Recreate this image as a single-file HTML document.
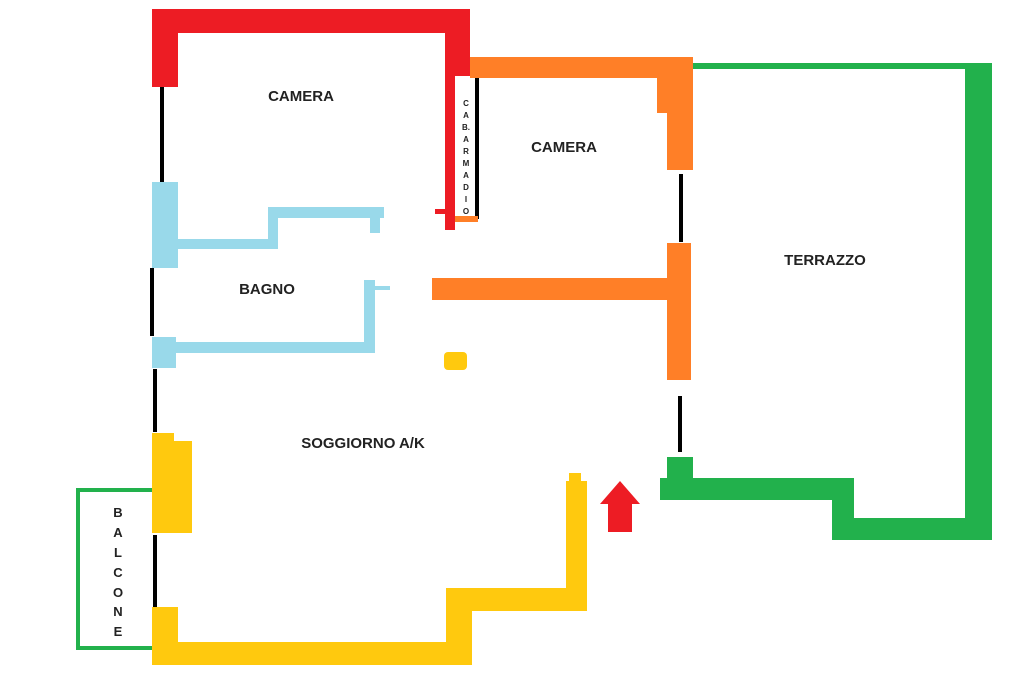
<!DOCTYPE html>
<html><head><style>
html,body{margin:0;padding:0;background:#fff;}
svg{display:block}
text{font-family:"Liberation Sans",sans-serif;font-weight:bold;fill:#222;}
</style></head><body>
<svg width="1024" height="683" viewBox="0 0 1024 683" xmlns="http://www.w3.org/2000/svg">
<!-- red -->
<g fill="#ed1c24">
<rect x="152" y="9" width="318" height="24"/>
<rect x="152" y="9" width="26" height="78"/>
<rect x="445" y="9" width="25" height="67"/>
<rect x="445" y="70" width="10" height="160"/>
<rect x="435" y="209" width="20" height="5"/>
</g>
<!-- cabina -->
<rect x="475" y="78" width="4" height="141" fill="#000"/>
<rect x="455" y="216" width="23" height="6" fill="#ff7f27"/>
<g font-size="8" text-anchor="middle" style="font-weight:normal">
<text x="466" y="106">C</text><text x="466" y="118">A</text><text x="466" y="130">B.</text>
<text x="466" y="142">A</text><text x="466" y="154">R</text><text x="466" y="166">M</text>
<text x="466" y="178">A</text><text x="466" y="190">D</text><text x="466" y="202">I</text><text x="466" y="214">O</text>
</g>
<!-- orange -->
<g fill="#ff7f27">
<rect x="470" y="57" width="223" height="21"/>
<rect x="657" y="57" width="36" height="56"/>
<rect x="667" y="57" width="26" height="113"/>
<rect x="667" y="243" width="24" height="137"/>
<rect x="432" y="278" width="250" height="22"/>
</g>
<!-- black windows -->
<g fill="#000">
<rect x="160" y="87" width="4" height="95"/>
<rect x="150" y="268" width="4" height="68"/>
<rect x="153" y="369" width="4" height="63"/>
<rect x="153" y="535" width="4" height="73"/>
<rect x="679" y="174" width="4" height="68"/>
<rect x="678" y="396" width="4" height="56"/>
</g>
<!-- light blue -->
<g fill="#99d9ea">
<rect x="152" y="182" width="26" height="86"/>
<rect x="178" y="239" width="99" height="10"/>
<rect x="268" y="207" width="10" height="42"/>
<rect x="268" y="207" width="116" height="11"/>
<rect x="370" y="218" width="10" height="15"/>
<rect x="152" y="337" width="24" height="31"/>
<rect x="176" y="342" width="199" height="11"/>
<rect x="364" y="280" width="11" height="73"/>
<rect x="375" y="286" width="15" height="4"/>
</g>
<!-- green -->
<g fill="#22b14c">
<rect x="693" y="63" width="299" height="6"/>
<rect x="965" y="63" width="27" height="477"/>
<rect x="832" y="518" width="160" height="22"/>
<rect x="832" y="478" width="22" height="62"/>
<rect x="660" y="478" width="194" height="22"/>
<rect x="667" y="457" width="26" height="25"/>
</g>
<path d="M152 490 H78 V648 H152" fill="none" stroke="#22b14c" stroke-width="4"/>
<!-- yellow -->
<g fill="#ffc90e">
<rect x="444" y="352" width="23" height="18" rx="4"/>
<rect x="152" y="433" width="22" height="100"/>
<rect x="152" y="441" width="40" height="92"/>
<rect x="152" y="607" width="26" height="58"/>
<rect x="152" y="642" width="320" height="23"/>
<rect x="446" y="588" width="26" height="77"/>
<rect x="446" y="588" width="141" height="23"/>
<rect x="566" y="481" width="21" height="130"/>
<rect x="569" y="473" width="12" height="10"/>
</g>
<!-- red arrow -->
<polygon points="620,481 640,504 632,504 632,532 608,532 608,504 600,504" fill="#ed1c24"/>
<!-- labels -->
<g font-size="15" text-anchor="middle">
<text x="301" y="101">CAMERA</text>
<text x="564" y="152">CAMERA</text>
<text x="267" y="294">BAGNO</text>
<text x="825" y="265">TERRAZZO</text>
<text x="363" y="448">SOGGIORNO A/K</text>
</g>
<g font-size="13" text-anchor="middle" style="font-weight:normal">
<text x="118" y="517">B</text><text x="118" y="537">A</text><text x="118" y="557">L</text>
<text x="118" y="577">C</text><text x="118" y="597">O</text><text x="118" y="616">N</text><text x="118" y="636">E</text>
</g>
</svg>
</body></html>
